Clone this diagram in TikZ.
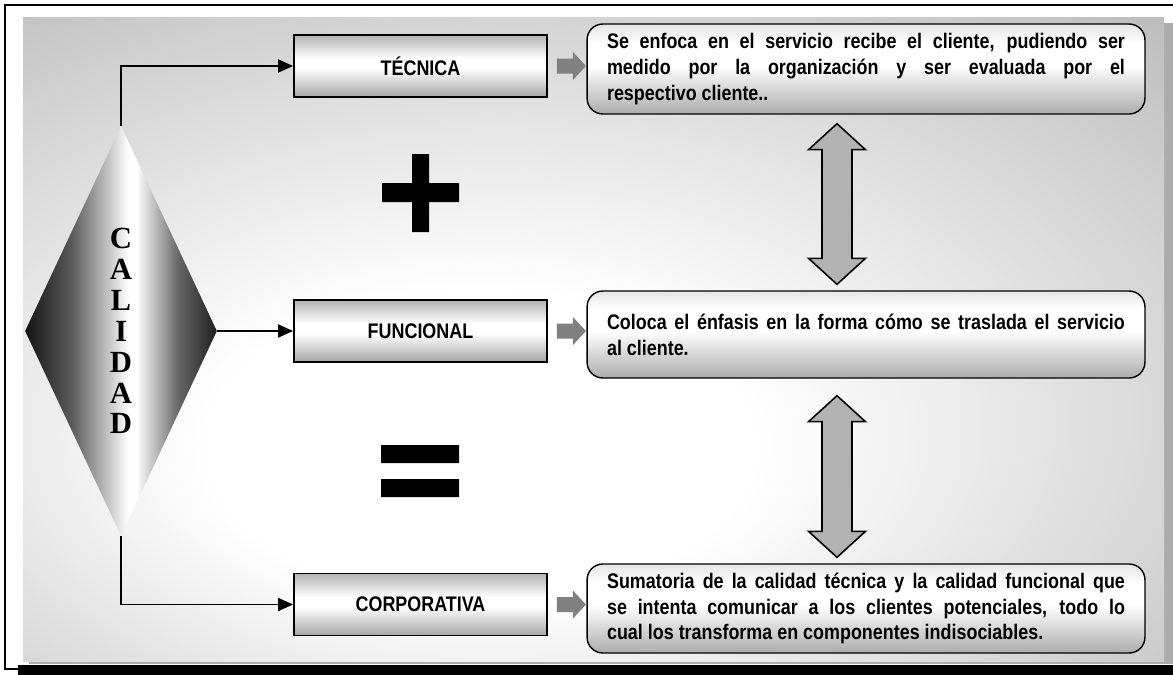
\documentclass[tikz,border=0pt]{standalone}
\usepackage{fontspec}
\setmainfont{Liberation Sans}
\newfontfamily\descfont[FakeStretch=0.85]{Liberation Sans Bold}
\newfontfamily\cajafont[FakeStretch=0.85]{Liberation Sans Bold}
\newfontfamily\letrafont{Liberation Serif}
\usetikzlibrary{shapes.geometric,arrows.meta,calc}

\pgfdeclareradialshading{fondo}{\pgfpoint{-6bp}{-10bp}}{color(0bp)=(white); color(12bp)=(white); color(42bp)=(gray!55); color(70bp)=(gray!55)}
\pgfdeclareverticalshading{sombracaja}{100bp}{color(0bp)=(gray!70); color(25bp)=(gray!70); color(48bp)=(white); color(56bp)=(white); color(75bp)=(gray!60); color(100bp)=(gray!60)}
\pgfdeclareverticalshading{sombranota}{100bp}{color(0bp)=(gray!65); color(25bp)=(gray!65); color(52bp)=(white); color(64bp)=(white); color(75bp)=(gray!20); color(100bp)=(gray!20)}
\pgfdeclarehorizontalshading{sombrarombo}{100bp}{color(0bp)=(black!92); color(25bp)=(black!92); color(37bp)=(black!65); color(52bp)=(white); color(54bp)=(white); color(65bp)=(black!60); color(75bp)=(black!88); color(100bp)=(black!88)}

\begin{document}
\tolerance=9999
\hyphenpenalty=10000
\begin{tikzpicture}[x=0.02cm,y=-0.02cm,
  rombo/.style={diamond,shade,shading=sombrarombo,minimum width=3.84cm,minimum height=8.2cm,inner sep=0pt},
  caja/.style={draw,line width=1.1pt,shade,shading=sombracaja,minimum width=5.06cm,minimum height=1.24cm,font=\cajafont\fontsize{12pt}{14pt}\selectfont},
  nota/.style={draw,line width=0.8pt,rounded corners=9pt,shade,shading=sombranota,minimum width=11.16cm,text width=10.36cm,align=justify,inner sep=0pt,font=\descfont\fontsize{12pt}{14.7pt}\selectfont},
  flecha/.style={line width=1.1pt,-{Triangle[length=3mm,width=2.6mm]}},
  gris/.style={fill=gray},
  doble/.style={draw,line width=0.9pt,fill=gray!60}]
\useasboundingbox (0,0) rectangle (1173,674);
\clip (0,0) rectangle (1173,674);
% marco y fondo
\fill[white] (0,0) rectangle (1173,674);
\draw[line width=1pt] (5,5) rectangle (1190,669);
\fill (18,665) rectangle (1190,680);
\fill[gray!65] (29,23) rectangle (1173,664);
\shade[shading=fondo] (23,17) rectangle (1164,661);

\node[rombo] (cal) at (121,331) {};
\node[font=\letrafont\bfseries\fontsize{17.5pt}{17.6pt}\selectfont,align=center,inner sep=0pt] (letras) at (cal.center) {C\\A\\L\\I\\D\\A\\D};

\node[caja] (tec) at (420.5,66) {TÉCNICA};
\node[caja] (fun) at (420.5,331) {FUNCIONAL};
\node[caja] (cor) at (420.5,604.5) {CORPORATIVA};

\node[nota,minimum height=1.8cm] (dtec) at (866,69)
  {Se enfoca en el servicio recibe el cliente, pudiendo ser\linebreak
   medido por la organización y ser evaluada por el\linebreak
   respectivo cliente..};
\node[nota,minimum height=1.74cm] (dfun) at (866,334.5)
  {Coloca el énfasis en la forma cómo se traslada el servicio\linebreak
   al cliente.};
\node[nota,minimum height=1.78cm] (dcor) at (866,608.5)
  {Sumatoria de la calidad técnica y la calidad funcional que\linebreak
   se intenta comunicar a los clientes potenciales, todo lo\linebreak
   cual los transforma en componentes indisociables.};

\draw[flecha] (cal.north) |- (tec.west);
\draw[flecha] (cal.east) -- (fun.west);
\draw[flecha] (cal.south) |- (cor.west);

\foreach \b in {tec,fun,cor}
  \fill[gris] (\b.east) ++(9,-7.5) -- ++(16,0) -- ++(0,-6.5) -- ++(13,14)
    -- ++(-13,14) -- ++(0,-6.5) -- ++(-16,0) -- cycle;

\foreach \p/\q/\g in {dtec/dfun/9,dfun/dcor/17} {
  \coordinate (a) at ($(\p.south)+(-29,\g)$);
  \coordinate (b) at ($(\q.north)+(-29,-6)$);
  \draw[doble] (a) -- ++(28.5,26) -- ++(-13.5,0) -- ($(b)+(15,-26)$) -- ++(13.5,0)
    -- (b) -- ++(-28.5,-26) -- ++(13.5,0) -- ($(a)+(-15,26)$) -- ++(-13.5,0) -- cycle;
}

% signos
\fill (412,154) rectangle (429,232) (382,183) rectangle (459,202);
\fill (381,445) rectangle (459,463) (381,479) rectangle (459,497);
\end{tikzpicture}
\end{document}
